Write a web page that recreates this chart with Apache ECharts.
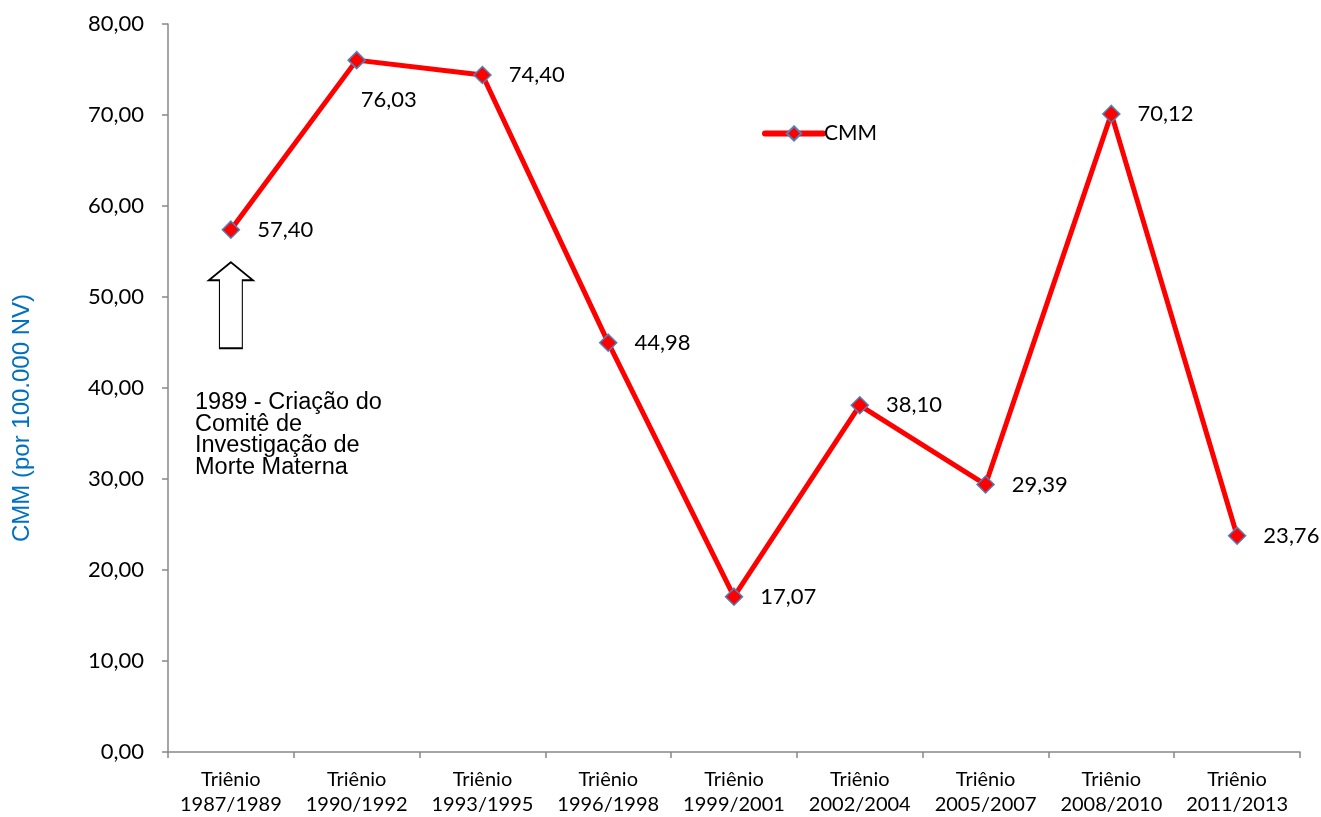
<!DOCTYPE html>
<html>
<head>
<meta charset="utf-8">
<script src="https://cdn.jsdelivr.net/npm/echarts@6/dist/echarts.min.js"></script>
<style>
  html, body { margin: 0; padding: 0; background: #fff; }
  #chart { width: 1321px; height: 817px; }
</style>
</head>
<body>
<div id="chart"></div>
<script>
// dados do gráfico
const trienios = ['Triênio\n1987/1989', 'Triênio\n1990/1992', 'Triênio\n1993/1995', 'Triênio\n1996/1998',
    'Triênio\n1999/2001', 'Triênio\n2002/2004', 'Triênio\n2005/2007', 'Triênio\n2008/2010', 'Triênio\n2011/2013'];
const cmm = [57.40, 76.03, 74.40, 44.98, 17.07, 38.10, 29.39, 70.12, 23.76];
const anotacao = '1989 - Criação do\nComitê de\nInvestigação de\nMorte Materna';
const setaValor = 49.1; // centro da seta sob o primeiro ponto

const fmt = v => Number(v).toFixed(2).replace('.', ',');
const tickFont = 'Lato, "Open Sans", sans-serif';
const arial = '"Liberation Sans", Arial, sans-serif';

const chart = echarts.init(document.getElementById('chart'));

const pontos = cmm.map((v, i) => {
    if (i === 1) {
        return { value: v, label: { position: 'bottom', distance: 20, offset: [32, 0] } };
    }
    return v;
});

const option = {
    animation: false,
    grid: { left: 168, right: 21, top: 24, bottom: 65, containLabel: false },
    legend: {
        data: ['CMM'],
        left: 757, top: 118,
        itemWidth: 58, itemHeight: 18, itemGap: 4,
        lineStyle: { width: 6, cap: 'round' },
        textStyle: { fontFamily: tickFont, fontSize: 21, color: '#000', padding: [0, 0, 0, -4] }
    },
    xAxis: {
        type: 'category',
        data: trienios,
        boundaryGap: true,
        axisLine: { lineStyle: { color: '#888', width: 1.5 } },
        axisTick: { show: true, length: 6, inside: false, lineStyle: { color: '#888', width: 1.5 } },
        axisLabel: { fontFamily: tickFont, fontSize: 20, color: '#000', lineHeight: 25, margin: 15, interval: 0 }
    },
    yAxis: {
        type: 'value',
        min: 0, max: 80, interval: 10,
        name: 'CMM (por 100.000 NV)',
        nameLocation: 'middle',
        nameGap: 134,
        nameTextStyle: { fontFamily: arial, fontSize: 24, color: '#0070C0', padding: [0, 60, 0, 0] },
        axisLine: { show: true, lineStyle: { color: '#888', width: 1.5 } },
        axisTick: { show: true, length: 6, lineStyle: { color: '#888', width: 1.5 } },
        splitLine: { show: false },
        axisLabel: { fontFamily: tickFont, fontSize: 22, color: '#000', margin: 24, formatter: v => fmt(v) }
    },
    graphic: [{
        type: 'text',
        left: 195, top: 391,
        style: {
            text: anotacao,
            font: '23.5px ' + arial,
            lineHeight: 21.5,
            fill: '#000'
        }
    }],
    series: [{
        name: 'CMM',
        type: 'line',
        data: pontos,
        symbol: 'diamond',
        symbolSize: 17,
        lineStyle: { color: '#FF0000', width: 5 },
        itemStyle: { color: '#FF0000', borderColor: '#4F81BD', borderWidth: 1.5 },
        label: {
            show: true, position: 'right', distance: 17,
            fontFamily: tickFont, fontSize: 22, color: '#000',
            formatter: p => fmt(p.value)
        },
        markPoint: {
            silent: true,
            symbol: 'path://M50,0 L100,21 L76,21 L76,100 L24,100 L24,21 L0,21 Z',
            symbolSize: [44, 86],
            symbolKeepAspect: false,
            itemStyle: { color: '#fff', borderColor: '#000', borderWidth: 1.5 },
            label: { show: false },
            data: [{ coord: [0, setaValor] }]
        }
    }]
};

chart.setOption(option);
</script>
</body>
</html>
